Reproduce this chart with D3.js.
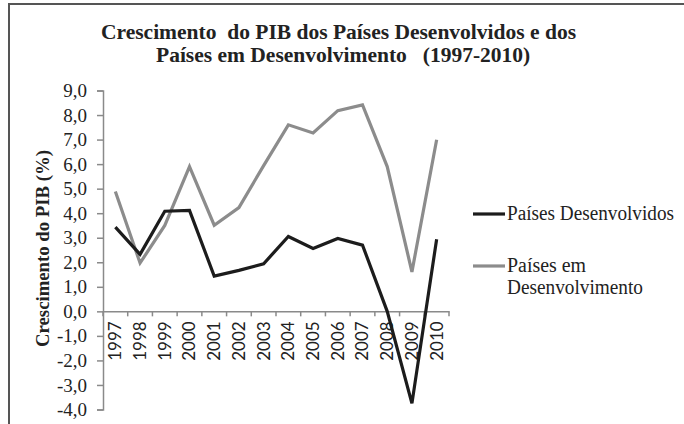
<!DOCTYPE html>
<html>
<head>
<meta charset="utf-8">
<script src="https://cdn.jsdelivr.net/npm/d3@7"></script>
<style>
  html, body { margin: 0; padding: 0; background: #fff; }
  svg { display: block; }
  .serif { font-family: "Liberation Serif"; }
  .sans { font-family: Lato; }
</style>
</head>
<body>
<svg id="chart" width="684" height="424"></svg>
<script>
// GDP growth (%) by year, two country groups
const years = ["1997","1998","1999","2000","2001","2002","2003","2004","2005","2006","2007","2008","2009","2010"];
const desenvolvidos = [3.43, 2.32, 4.08, 4.11, 1.44, 1.67, 1.94, 3.05, 2.56, 2.97, 2.70, 0.0, -3.75, 2.94];
const emDesenvolvimento = [4.88, 1.97, 3.50, 5.90, 3.51, 4.23, 5.94, 7.60, 7.27, 8.18, 8.41, 5.90, 1.61, 6.99];
const yTicks = [9, 8, 7, 6, 5, 4, 3, 2, 1, 0, -1, -2, -3, -4];
const seriesNames = ["Países Desenvolvidos", "Países em Desenvolvimento"];
const titleLine1 = "Crescimento  do PIB dos Países Desenvolvidos e dos";
const titleLine2 = ["Países em Desenvolvimento", "(1997-2010)"];

const svg = d3.select("#chart");
const textColor = "#222";
const axisColor = "#8a8a8a";

// frame (top and left edges)
svg.append("path")
  .attr("d", "M9,424 V4 H684")
  .attr("fill", "none")
  .attr("stroke", "#555")
  .attr("stroke-width", 2);

// title
const title = svg.append("g")
  .attr("class", "serif")
  .style("font-weight", "bold").style("font-size", "21.5px")
  .attr("fill", textColor);
title.append("text")
  .attr("x", 101).attr("y", 38.5)
  .style("white-space", "pre")
  .text(titleLine1);
const t2 = title.append("text").attr("x", 156).attr("y", 62);
t2.append("tspan").text(titleLine2[0]);
t2.append("tspan").attr("dx", 16).text(titleLine2[1]);

const x = d3.scaleBand().domain(years).range([103, 449]);
const y = d3.scaleLinear().domain([-4, 9]).range([409.5, 90.5]);

// y axis
const yAxis = svg.append("g")
  .attr("transform", "translate(103,0)")
  .call(d3.axisLeft(y).tickValues(yTicks).tickSize(6).tickPadding(10)
    .tickFormat(d => d3.format(".1f")(d).replace(".", ",").replace("−", "-")));
yAxis.attr("font-family", null);
yAxis.select(".domain").attr("stroke", axisColor).attr("stroke-width", 1.5);
yAxis.selectAll(".tick line").attr("stroke", axisColor).attr("stroke-width", 1.5);
yAxis.selectAll(".tick text")
  .attr("class", "serif")
  .style("font-size", "19px").attr("fill", textColor);

// x axis at zero
const xAxis = svg.append("g")
  .attr("transform", `translate(0,${y(0)})`)
  .call(d3.axisBottom(x).tickSize(0).tickPadding(0));
xAxis.attr("font-family", null);
xAxis.select(".domain").attr("stroke", axisColor).attr("stroke-width", 1.5);
// band boundary ticks
xAxis.selectAll(".bound")
  .data(d3.range(years.length + 1))
  .join("line")
  .attr("class", "bound")
  .attr("x1", i => x.range()[0] + i * x.bandwidth())
  .attr("x2", i => x.range()[0] + i * x.bandwidth())
  .attr("y1", 0).attr("y2", 5)
  .attr("stroke", axisColor).attr("stroke-width", 1.5);
xAxis.selectAll(".tick text")
  .attr("class", "sans")
  .attr("transform", "rotate(-90)")
  .attr("text-anchor", "end")
  .attr("x", -10).attr("y", 0)
  .attr("dy", "0.35em")
  .style("font-size", "17px").attr("fill", textColor);

// y axis title
svg.append("text")
  .attr("class", "serif")
  .attr("transform", "translate(49,248.5) rotate(-90)")
  .attr("text-anchor", "middle")
  .attr("textLength", 197).attr("lengthAdjust", "spacingAndGlyphs")
  .style("font-weight", "bold")
  .style("font-size", "19.5px").attr("fill", textColor)
  .text("Crescimento do PIB (%)");

// lines
const line = d3.line()
  .x((d, i) => x(years[i]) + x.bandwidth() / 2)
  .y(d => y(d));

const series = [
  { name: seriesNames[1], values: emDesenvolvimento, color: "#8c8c8c" },
  { name: seriesNames[0], values: desenvolvidos, color: "#1c1c1c" }
];
svg.selectAll(".series")
  .data(series)
  .join("path")
  .attr("class", "series")
  .attr("d", d => line(d.values))
  .attr("fill", "none")
  .attr("stroke", d => d.color)
  .attr("stroke-width", 3.2)
  .attr("stroke-linejoin", "miter");

// legend
const legend = svg.append("g").attr("class", "serif").style("font-size", "20px");
legend.append("line")
  .attr("x1", 473).attr("x2", 505).attr("y1", 214).attr("y2", 214)
  .attr("stroke", "#1c1c1c").attr("stroke-width", 3.2);
legend.append("text")
  .attr("x", 507).attr("y", 220).attr("fill", textColor)
  .attr("textLength", 167).attr("lengthAdjust", "spacingAndGlyphs")
  .text(seriesNames[0]);
legend.append("line")
  .attr("x1", 473).attr("x2", 505).attr("y1", 266).attr("y2", 266)
  .attr("stroke", "#8c8c8c").attr("stroke-width", 3.2);
const words = seriesNames[1].split(" ");
legend.append("text")
  .attr("x", 507).attr("y", 272).attr("fill", textColor)
  .attr("textLength", 79).attr("lengthAdjust", "spacingAndGlyphs")
  .text(words.slice(0, 2).join(" "));
legend.append("text")
  .attr("x", 507).attr("y", 294).attr("fill", textColor)
  .attr("textLength", 136).attr("lengthAdjust", "spacingAndGlyphs")
  .text(words.slice(2).join(" "));
</script>
</body>
</html>
